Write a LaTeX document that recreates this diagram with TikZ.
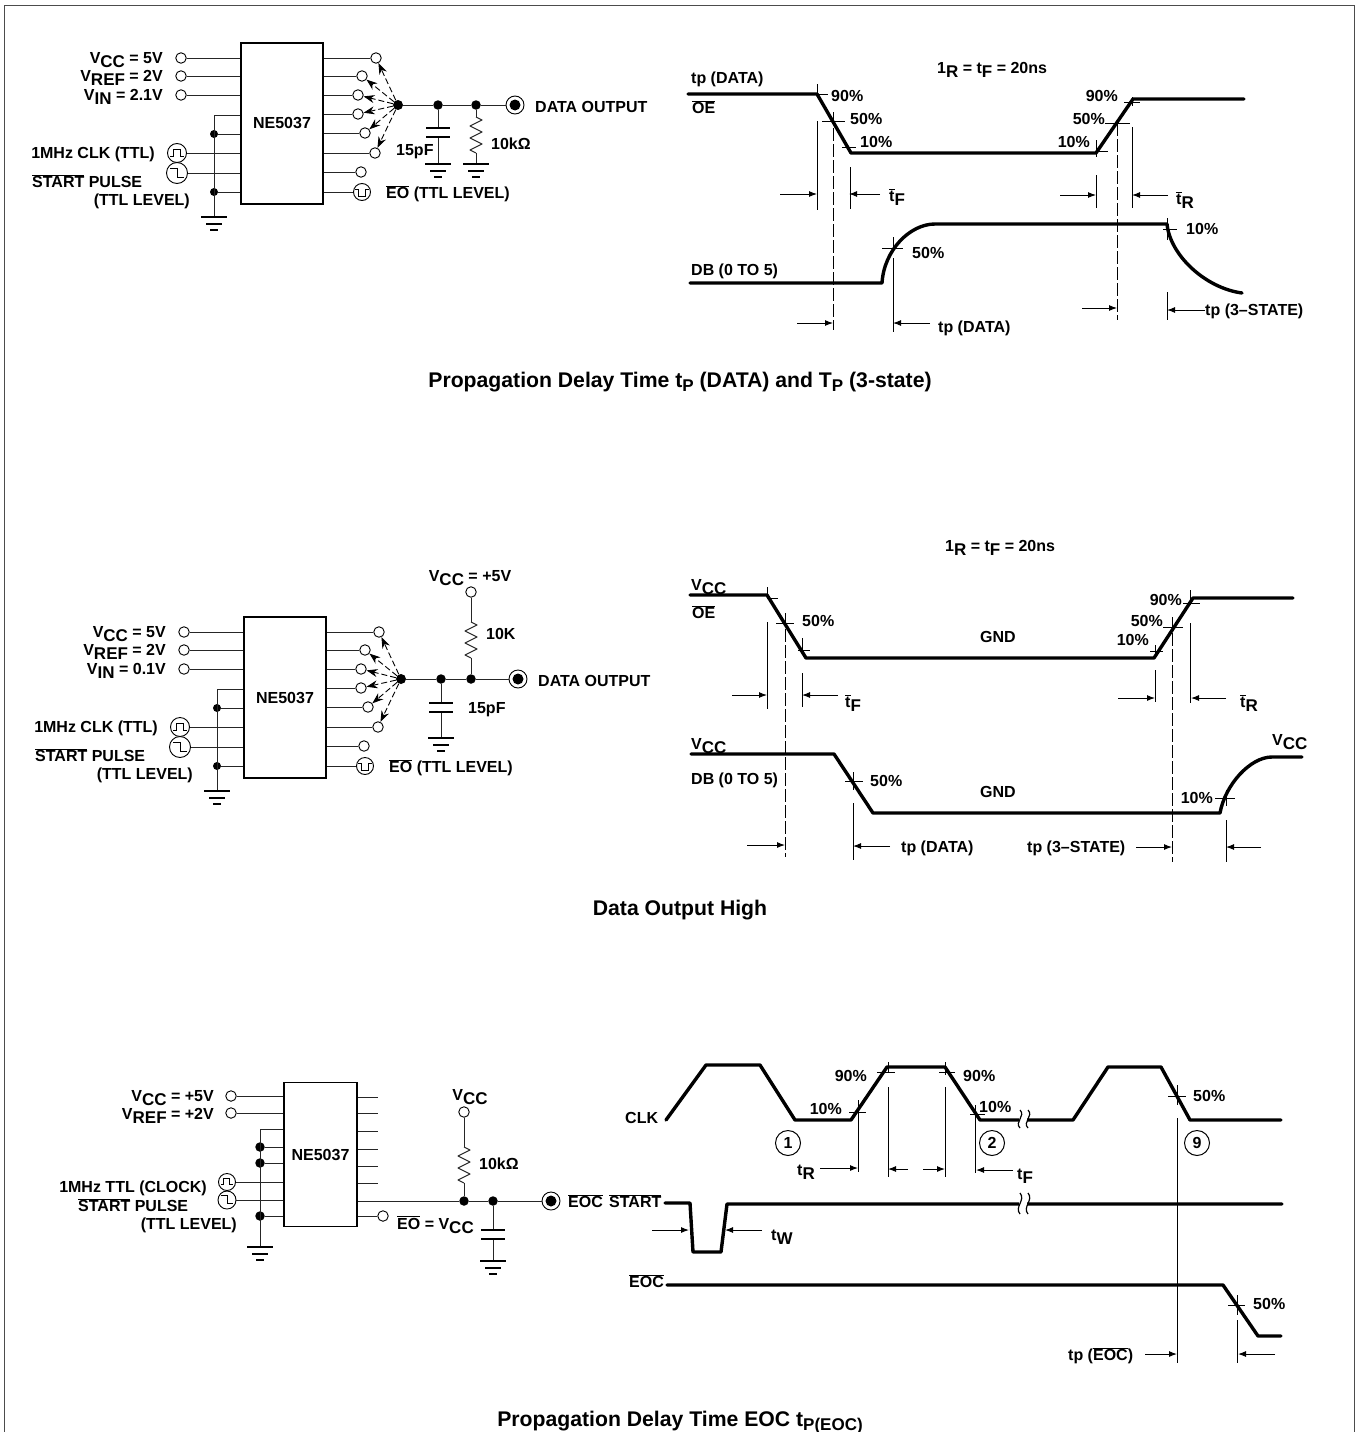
\documentclass[tikz,border=0pt]{standalone}
\usepackage{fontspec}
\setmainfont{Liberation Sans}
\usetikzlibrary{arrows,arrows.meta}
\newcommand{\lblfont}{\fontsize{16}{18}\selectfont\bfseries}
\newcommand{\capfont}{\fontsize{21.2}{23}\selectfont\bfseries}
\newcommand{\lowsub}[1]{\raisebox{-4pt}{\fontsize{17}{17}\selectfont #1}}
\newcommand{\ovl}[1]{$\overline{\mbox{#1}}$}
\tikzset{
  lblL/.style={anchor=base west,inner sep=0pt,font=\lblfont},
  lblR/.style={anchor=base east,inner sep=0pt,font=\lblfont},
  lblC/.style={anchor=base,inner sep=0pt,font=\lblfont},
  capt/.style={anchor=base,inner sep=0pt,font=\capfont},
  wire/.style={line width=1pt,black!85},
  trace/.style={line width=3.4pt,line join=round,line cap=round},
  wit/.style={line width=1pt},
  dashwit/.style={line width=1pt,dash pattern=on 13pt off 3pt},
  tickm/.style={line width=1pt},
  arr/.style={-{Latex[length=8pt,width=6pt]},line width=1pt},
  fanarr/.style={-{Stealth[length=11pt,width=8pt]},line width=.9pt,dash pattern=on 6pt off 3pt},
  icbox/.style={draw,line width=1.3pt,fill=white,inner sep=0pt,font=\lblfont},
  term/.style={circle,draw,fill=white,inner sep=0pt,minimum size=10.5pt,line width=.9pt},
  sigc/.style={circle,draw,fill=white,inner sep=0pt,minimum size=19pt,line width=.9pt},
  dotj/.style={circle,fill=black,inner sep=0pt,minimum size=9.5pt},
  outterm/.style={circle,draw,fill=white,inner sep=0pt,minimum size=18pt,line width=.9pt},
  numc/.style={circle,draw,inner sep=0pt,minimum size=25pt,line width=1pt,font=\lblfont},
  gnd/.pic={\draw[line width=1.4pt] (-13,0) -- (13,0) (-8,7) -- (8,7) (-4,13) -- (4,13);},
  capac/.pic={\draw[line width=1.5pt] (-12,0) -- (12,0) (-12,9) -- (12,9);},
  resz/.pic={\draw[wire,line join=round] (0,0) -- (6,3) -- (-6,9) -- (6,15) -- (-6,21) -- (6,27) -- (-6,33) -- (0,36);},
  clkwave/.pic={\draw[line width=.8pt] (-7,3) -- (-4,3) -- (-4,-4) -- (3,-4) -- (3,3) -- (7,3);},
  stepwave/.pic={\draw[line width=.8pt] (-7,-5) -- (0,-5) -- (0,4) -- (7,4);},
  eowave/.pic={\draw[line width=.8pt] (-7,-3) -- (-4,-3) -- (-4,4) -- (3,4) -- (3,-3) -- (7,-3);},
}
\begin{document}
\begin{tikzpicture}
    [line cap=butt,x=1pt,y=-1pt]
\useasboundingbox (0,0) rectangle (1356,1432);
\fill[white] (0,0) rectangle (1356,1432);
\draw[line width=1.2pt,black!70] (4.5,1432) -- (4.5,5.5) -- (1354.5,5.5) -- (1354.5,1432);

%first two circuits differ only by shift and input level
\foreach \dx/\dy/\vin/\pre in {0/0/2.1/a,3/574/0.1/b} {
\begin{scope}[shift={(\dx,\dy)},name prefix=\pre-]
  \node[icbox,minimum width=82pt,minimum height=161pt] (box) at (282,123.5) {NE5037};
  \node[term] (vcc) at (181,58) {};
  \node[term] (vref) at (181,76) {};
  \node[term] (vin) at (181,95) {};
  \node[sigc,minimum size=19pt] (clk) at (177,153) {};
  \node[sigc,minimum size=21pt] (start) at (177,173) {};
  \foreach \t in {vcc,vref,vin,clk,start} \draw[wire] (\t) -- (\t -| box.west);
  \pic at (clk) {clkwave};
  \pic at (start) {stepwave};
  \node[dotj,minimum size=8pt] (d1) at (214,134) {};
  \node[dotj,minimum size=8pt] (d2) at (214,192) {};
  \coordinate (top) at (214,115);
  \coordinate (lgnd) at (214,217);
  \draw[wire] (top -| box.west) -- (top) -- (lgnd);
  \draw[wire] (d1) -- (d1 -| box.west);
  \draw[wire] (d2) -- (d2 -| box.west);
  \pic at (lgnd) {gnd};
  %output pins
  \node[dotj,minimum size=10pt] (hub) at (398,105) {};
  \node[term] (r1) at (376,58) {};
  \node[term] (r2) at (362,76) {};
  \node[term] (r3) at (358,95) {};
  \node[term] (r4) at (358,114) {};
  \node[term] (r5) at (365,133) {};
  \node[term] (r6) at (375,153) {};
  \node[term] (r7) at (361,172) {};
  \node[sigc,minimum size=17pt] (eo) at (362,192) {};
  \foreach \t in {r1,r2,r3,r4,r5,r6,r7,eo} \draw[wire] (\t -| box.east) -- (\t);
  \pic at (eo) {eowave};
  \foreach \t in {r1,r2,r3,r4,r5,r6} \draw[fanarr] (hub) -- (\t);
  \node[outterm] (out) at (515,105) {};
  \fill[black] (out) circle (5.5);
  \node[lblR] (vcct) at (163,63) {V\lowsub{CC} = 5V};
  \node[lblR] (vreft) at (163,81) {V\lowsub{REF} = 2V};
  \node[lblR] (vint) at (163,100) {V\lowsub{IN} = \vin V};
  \node[lblR] (clkt) at (155,158.5) {1MHz CLK (TTL)};
  \node[lblL] (startt) at (32,187.5) {\ovl{START} PULSE};
  \node[lblR] (levt) at (190,205.5) {(TTL LEVEL)};
  \node[lblL] (eot) at (386,198.5) {\ovl{EO} (TTL LEVEL)};
  \node[lblL] (outt) at (535,112.5) {DATA OUTPUT};
\end{scope}
}
%rest of first circuit
\node[dotj] (a-dc) at (438,105) {};
\node[dotj] (a-dr) at (476,105) {};
\draw[wire] (a-hub) -- (a-dc) -- (a-dr) -- (a-out);
\coordinate (a-c1) at (438,128);
\coordinate (a-g1) at (438,164);
\coordinate (a-r1t) at (476,117);
\coordinate (a-g2) at (476,164);
\draw[wire] (a-dc) -- (a-c1) ++(0,9) -- (a-g1);
\pic at (a-c1) {capac};
\pic at (a-g1) {gnd};
\draw[wire] (a-dr) -- (a-r1t) ++(0,36) -- (a-g2);
\pic at (a-r1t) {resz};
\pic at (a-g2) {gnd};
\node[lblL] (a-cv) at (396,155) {15pF};
\node[lblL] (a-rv) at (491,149) {10kΩ};
%rest of second circuit
\node[dotj] (b-dc) at (441,679) {};
\node[dotj] (b-dr) at (471,679) {};
\draw[wire] (b-hub) -- (b-dc) -- (b-dr) -- (b-out);
\node[term] (b-vc) at (471,592) {};
\coordinate (b-r1t) at (471,622);
\coordinate (b-c1) at (441,703);
\coordinate (b-g1) at (441,738);
\draw[wire] (b-vc) -- (b-r1t) ++(0,36) -- (b-dr);
\pic at (b-r1t) {resz};
\draw[wire] (b-dc) -- (b-c1) ++(0,9) -- (b-g1);
\pic at (b-c1) {capac};
\pic at (b-g1) {gnd};
\node[lblC] (b-vct) at (470,581) {V\lowsub{CC} = +5V};
\node[lblL] (b-rv) at (486,639.5) {10K};
\node[lblL] (b-cv) at (468,713.5) {15pF};

%third circuit
\node[icbox,minimum width=73pt,minimum height=144pt] (c-box) at (320.5,1154.5) {NE5037};
\node[term] (c-vcc) at (231,1096) {};
\node[term] (c-vref) at (231,1113) {};
\node[sigc,minimum size=17pt] (c-clk) at (227,1182) {};
\node[sigc,minimum size=18pt] (c-start) at (227,1200) {};
\foreach \t in {vcc,vref,clk,start} \draw[wire] (c-\t) -- (c-\t -| c-box.west);
\pic[scale=.85] at (c-clk) {clkwave};
\pic[scale=.85] at (c-start) {stepwave};
\coordinate (c-top) at (260,1129);
\coordinate (c-lgnd) at (260,1247);
\node[dotj] (c-d1) at (260,1147) {};
\node[dotj] (c-d2) at (260,1163) {};
\node[dotj] (c-d3) at (260,1216) {};
\draw[wire] (c-top -| c-box.west) -- (c-top) -- (c-lgnd);
\foreach \t in {d1,d2,d3} \draw[wire] (c-\t) -- (c-\t -| c-box.west);
\pic at (c-lgnd) {gnd};
\foreach \y in {1097,1113,1131,1149,1166,1183} {
  \coordinate (c-s\y) at (378,\y);
  \draw[wire] (c-s\y -| c-box.east) -- (c-s\y);
}
\node[term] (c-eo) at (383,1216) {};
\draw[wire] (c-eo -| c-box.east) -- (c-eo);
\node[dotj] (c-dr) at (464,1201) {};
\node[dotj] (c-dc) at (493,1201) {};
\node[outterm] (c-out) at (551,1201) {};
\fill[black] (c-out) circle (5.5);
\draw[wire] (c-dr -| c-box.east) -- (c-dr) -- (c-dc) -- (c-out);
\node[term] (c-vc) at (464,1112) {};
\coordinate (c-r1t) at (464,1147);
\draw[wire] (c-vc) -- (c-r1t) ++(0,36) -- (c-dr);
\pic at (c-r1t) {resz};
\coordinate (c-c1) at (493,1230);
\coordinate (c-g1) at (493,1261);
\draw[wire] (c-dc) -- (c-c1) ++(0,9) -- (c-g1);
\pic at (c-c1) {capac};
\pic at (c-g1) {gnd};
\node[lblR] (c-vcct) at (214,1101) {V\lowsub{CC} = +5V};
\node[lblR] (c-vreft) at (214,1119) {V\lowsub{REF} = +2V};
\node[lblR] (c-clkt) at (207,1192.5) {1MHz TTL (CLOCK)};
\node[lblL] (c-startt) at (78,1211.5) {\ovl{START} PULSE};
\node[lblR] (c-levt) at (237,1229.5) {(TTL LEVEL)};
\node[lblC] (c-vct) at (470,1100) {V\lowsub{CC}};
\node[lblL] (c-rv) at (479,1169) {10kΩ};
\node[lblL] (c-eot) at (397,1229) {\ovl{EO} = V\lowsub{CC}};
\node[lblL] (c-eoct) at (568,1207.5) {\ovl{EOC}};
\node[lblL] (c-stt) at (609,1207.5) {\ovl{START}};

%first timing diagram
\draw[trace] (688,94) -- (817,94) -- (851,153) -- (1096,153) -- (1133,99) -- (1244,99);
\draw[trace] (690,283) -- (882,283) .. controls (884,250) and (910,224) .. (935,224) -- (1167,224) .. controls (1170,255) and (1205,288) .. (1242,293);
\foreach \x/\a/\b in {817/84/94,817/121/210,850/167/209,1096/140/157,1096/175/208,1132/97/106,1132/127/208,893/237/250,893/258/332,1167/218/240,1167/292/320}
  \draw[wit] (\x,\a) -- (\x,\b);
\foreach \x/\a/\b in {833/112/330,1117/123/320}
  \draw[dashwit] (\x,\a) -- (\x,\b);
\foreach \a/\b/\y in {817/828/94,822/845/121,842/856/147,1124/1140/102,1105/1130/123,1096/1108/151,882/903/248,1163/1177/229}
  \draw[tickm] (\a,\y) -- (\b,\y);
\foreach \a/\b/\y in {780/817/194,880/849/194,1060/1096/195,1168/1132/195,797/833/323,930/893/323,1082/1117/308,1205/1167/310}
  \draw[arr] (\a,\y) -- (\b,\y);
\node[lblL] (t1-a) at (691,83.5) {tp (DATA)};
\node[lblL] (t1-b) at (692,113.5) {\ovl{OE}};
\node[lblL] (t1-c) at (937,73.5) {1\lowsub{R} = t\lowsub{F} = 20ns};
\node[lblL] (t1-d) at (831,101.5) {90\%};
\node[lblL] (t1-e) at (850,124.5) {50\%};
\node[lblL] (t1-f) at (860,147.5) {10\%};
\node[lblR] (t1-g) at (1118,101.5) {90\%};
\node[lblR] (t1-h) at (1105,124.5) {50\%};
\node[lblR] (t1-i) at (1090,147.5) {10\%};
\node[lblL] (t1-j) at (889,201) {\ovl{t}\lowsub{F}};
\node[lblL] (t1-k) at (1176,204) {\ovl{t}\lowsub{R}};
\node[lblL] (t1-l) at (912,258.5) {50\%};
\node[lblL] (t1-m) at (1186,234.5) {10\%};
\node[lblL] (t1-n) at (691,275.5) {DB (0 TO 5)};
\node[lblL] (t1-o) at (938,332.5) {tp (DATA)};
\node[lblL] (t1-p) at (1205,315.5) {tp (3--STATE)};
\node[capt] (t1-cap) at (680,387) {Propagation Delay Time t\lowsub{P} (DATA) and T\lowsub{P} (3-state)};

%second timing diagram
\draw[trace] (690,595) -- (767,595) -- (806,658) -- (1154,658) -- (1193,598) -- (1293,598);
\draw[trace] (691,754) -- (834,754) -- (873,813) -- (1220,813) .. controls (1225,785) and (1250,757) .. (1272,757) -- (1302,757);
\foreach \x/\a/\b in {767/587/598,767/622/709,802/638/655,802/673/707,1155/645/655,1155/670/702,1190/590/605,1190/623/703,853/772/790,853/803/860,1226/790/806,1226/820/862}
  \draw[wit] (\x,\a) -- (\x,\b);
\foreach \x/\a/\b in {785/613/857,1172/617/862}
  \draw[dashwit] (\x,\a) -- (\x,\b);
\foreach \a/\b/\y in {767/778/598,776/794/623,798/810/650,1183/1200/603,1163/1183/627,1150/1163/651,845/863/781,1215/1235/798}
  \draw[tickm] (\a,\y) -- (\b,\y);
\foreach \a/\b/\y in {732/767/695,838/802/695,1118/1155/698,1226/1191/698,747/785/845,890/853/846,1136/1172/847,1261/1226/847}
  \draw[arr] (\a,\y) -- (\b,\y);
\node[lblL] (t2-a) at (691,590) {V\lowsub{CC}};
\node[lblL] (t2-b) at (692,618.5) {\ovl{OE}};
\node[lblL] (t2-c) at (945,551) {1\lowsub{R} = t\lowsub{F} = 20ns};
\node[lblL] (t2-d) at (802,626.5) {50\%};
\node[lblC] (t2-e) at (998,642.5) {GND};
\node[lblC] (t2-f) at (998,797.5) {GND};
\node[lblR] (t2-g) at (1182,605.5) {90\%};
\node[lblR] (t2-h) at (1163,626.5) {50\%};
\node[lblR] (t2-i) at (1149,645.5) {10\%};
\node[lblL] (t2-j) at (845,707) {\ovl{t}\lowsub{F}};
\node[lblL] (t2-k) at (1240,707) {\ovl{t}\lowsub{R}};
\node[lblL] (t2-l) at (691,749) {V\lowsub{CC}};
\node[lblL] (t2-m) at (691,784.5) {DB (0 TO 5)};
\node[lblL] (t2-n) at (870,786.5) {50\%};
\node[lblR] (t2-o) at (1213,803.5) {10\%};
\node[lblL] (t2-p) at (1272,745) {V\lowsub{CC}};
\node[lblL] (t2-q) at (901,852.5) {tp (DATA)};
\node[lblL] (t2-r) at (1027,852.5) {tp (3--STATE)};
\node[capt] (t2-cap) at (680,915) {Data Output High};

%third timing diagram
\draw[trace] (666,1120) -- (706,1065) -- (760,1065) -- (795,1120) -- (851,1120) -- (887,1067) -- (945,1067) -- (980,1120) -- (1073,1120) -- (1108,1067) -- (1161,1067) -- (1190,1120) -- (1281,1120);
\draw[trace] (665,1203) -- (690,1203) -- (693,1252) -- (721,1252) -- (727,1204) -- (1282,1204);
\draw[trace] (667,1285) -- (1223,1285) -- (1258,1336) -- (1281,1336);
\foreach \y/\h in {1110/18,1193/21} {
  \fill[white] (1019,\y) rectangle (1027,\y+\h);
  \draw[wit,line width=1.2pt] (1020,\y) .. controls (1026,\y+\h/3) and (1014,\y+2*\h/3) .. (1020,\y+\h);
  \draw[wit,line width=1.2pt] (1028,\y) .. controls (1034,\y+\h/3) and (1022,\y+2*\h/3) .. (1028,\y+\h);
}
\foreach \x/\a/\b in {858/1100/1172,888/1062/1072,888/1087/1177,945/1062/1075,945/1087/1177,975/1105/1173,1177/1085/1105,1177/1118/1363,1237/1295/1315,1237/1320/1363}
  \draw[wit] (\x,\a) -- (\x,\b);
\foreach \a/\b/\y in {849/866/1112,877/895/1072,939/955/1072,970/985/1114,1168/1186/1096,1228/1245/1305}
  \draw[tickm] (\a,\y) -- (\b,\y);
\foreach \a/\b/\y in {820/858/1168,908/888/1169,923/945/1169,1013/976/1170,652/689/1230,762/725/1230,1145/1177/1354,1275/1238/1354}
  \draw[arr] (\a,\y) -- (\b,\y);
\node[numc] (t3-n1) at (788,1143) {1};
\node[numc] (t3-n2) at (992,1143) {2};
\node[numc] (t3-n9) at (1197,1143) {9};
\node[lblL] (t3-a) at (625,1123.5) {CLK};
\node[lblR] (t3-b) at (867,1081.5) {90\%};
\node[lblL] (t3-c) at (963,1081.5) {90\%};
\node[lblR] (t3-d) at (842,1114.5) {10\%};
\node[lblL] (t3-e) at (979,1112.5) {10\%};
\node[lblL] (t3-f) at (1193,1101.5) {50\%};
\node[lblL] (t3-g) at (797,1175) {t\lowsub{R}};
\node[lblL] (t3-h) at (1017,1179) {t\lowsub{F}};
\node[lblL] (t3-i) at (771,1240) {t\lowsub{W}};
\node[lblL] (t3-j) at (629,1287.5) {\ovl{EOC}};
\node[lblL] (t3-k) at (1253,1309.5) {50\%};
\node[lblL] (t3-l) at (1068,1360.5) {tp (\ovl{EOC})};
\node[capt] (t3-cap) at (680,1426) {Propagation Delay Time EOC t\lowsub{P(EOC)}};
\end{tikzpicture}
\end{document}
